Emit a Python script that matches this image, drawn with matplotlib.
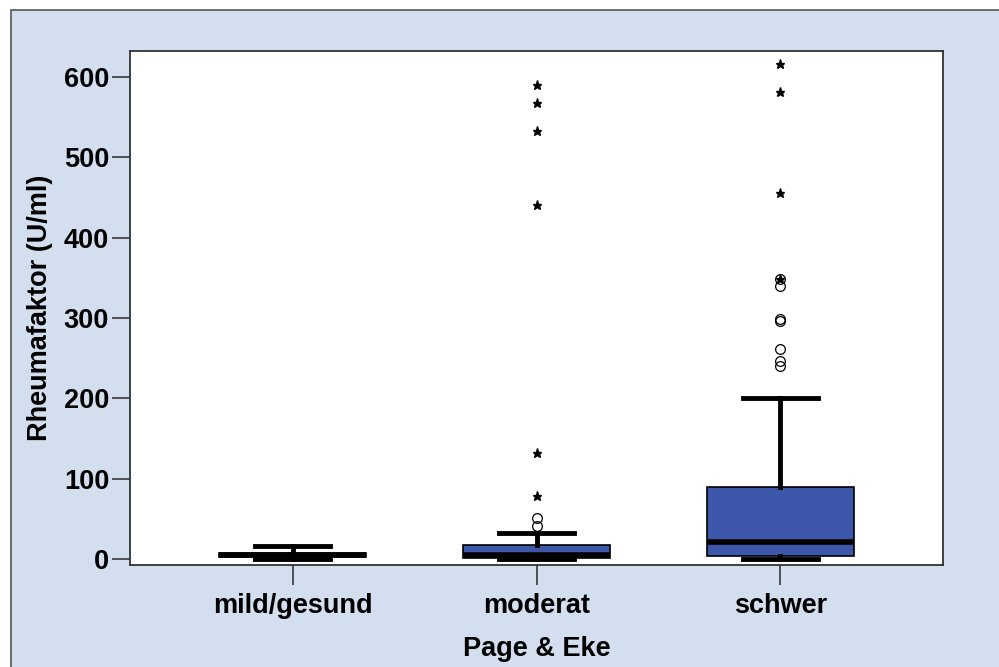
import matplotlib
matplotlib.use("Agg")
import matplotlib.pyplot as plt
from matplotlib.patches import Rectangle

plt.rcParams['font.family'] = ['Liberation Sans', 'DejaVu Sans']
plt.rcParams['font.weight'] = 'bold'

groups = ['mild/gesund', 'moderat', 'schwer']
# box stats (U/ml)
whislo = [0, 0, 0.5]
q1 = [3, 2, 4.5]
med = [5.5, 6, 22]
q3 = [8.5, 18, 90]
whishi = [16, 33, 200]
# outliers: circles (mild) and stars (extreme)
circles = [[], [41, 51], [240, 246, 262, 296, 299, 340, 348]]
stars = [[], [79, 132, 440, 533, 567, 590], [349, 456, 581, 616]]

fig = plt.figure(figsize=(9.99, 6.67), dpi=100)
fig.patch.set_facecolor('white')
fig.patches.append(Rectangle((11 / 999, -0.1), 1.2, (667 - 10) / 667 + 0.1,
                             transform=fig.transFigure, facecolor='#d3dfef',
                             edgecolor='#555555', linewidth=1.2, zorder=-10))

ax = fig.add_axes([130 / 999, (667 - 565) / 667, (943 - 130) / 999, (565 - 51) / 667])
ax.set_facecolor('white')

stats = []
for i, g in enumerate(groups):
    stats.append(dict(label=g, whislo=whislo[i], q1=q1[i], med=med[i], q3=q3[i],
                      whishi=whishi[i], fliers=[]))

ax.bxp(stats, positions=[1, 2, 3], widths=0.6, patch_artist=True, showfliers=False,
       boxprops=dict(facecolor='#3d58ab', edgecolor='black', linewidth=1.2),
       medianprops=dict(color='black', linewidth=4, solid_capstyle='butt'),
       whiskerprops=dict(color='black', linewidth=3.5),
       capprops=dict(color='black', linewidth=3.5), capwidths=0.31)

for i in range(len(groups)):
    if circles[i]:
        ax.plot([i + 1] * len(circles[i]), circles[i], 'o', markerfacecolor='none',
                markeredgecolor='black', markersize=7, markeredgewidth=0.9)
    if stars[i]:
        ax.plot([i + 1] * len(stars[i]), stars[i], '*', color='black', markersize=6.5)

ax.set_xlim(1 - 2 / 3, 3 + 2 / 3)
ax.set_ylim(-7, 632)
ax.set_yticks([0, 100, 200, 300, 400, 500, 600])
ax.set_xticks([1, 2, 3])
ax.set_xticklabels(groups)
ax.tick_params(axis='both', direction='out', length=13, width=1.3, color='#444444',
               labelsize=19.5, pad=2)
ax.tick_params(axis='x', length=14.4, pad=6)
for lab in ax.get_xticklabels() + ax.get_yticklabels():
    lab.set_fontweight('bold')
for s in ax.spines.values():
    s.set_color('#333333')
    s.set_linewidth(1.3)

ax.set_xlabel('Page & Eke', fontsize=19.5, fontweight='bold', labelpad=12)
ax.set_ylabel('Rheumafaktor (U/ml)', fontsize=19.5, fontweight='bold', labelpad=8)

plt.savefig('out.png', dpi=100)
